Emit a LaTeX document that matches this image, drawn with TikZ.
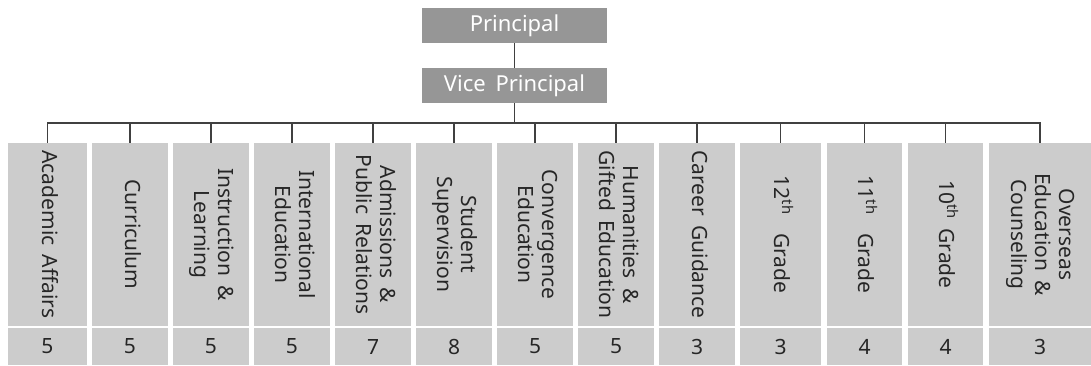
\documentclass[tikz,border=0pt]{standalone}
\usepackage{fontspec}
\setmainfont[WordSpace=1.7]{Noto Sans}
\usepackage{graphicx}

\definecolor{headgray}{RGB}{150,150,150}
\definecolor{unitgray}{RGB}{204,204,204}
\definecolor{linegray}{RGB}{64,64,64}
\newcommand{\vlabel}[1]{\rotatebox{-90}{\begin{tabular}{@{}c@{}}#1\end{tabular}}}

\begin{document}
\begin{tikzpicture}[x=1pt,y=-1pt,
  head/.style={fill=headgray,text=white,minimum width=185pt,minimum height=35pt,inner sep=0pt,font=\fontsize{22}{26}\selectfont},
  unit/.style={fill=unitgray,text=black!85,minimum width=76pt,minimum height=183pt,inner sep=0pt,font=\fontsize{21}{24}\selectfont},
  count/.style={fill=unitgray,text=black!85,minimum width=76pt,minimum height=37pt,inner sep=0pt,font=\fontsize{21}{24}\selectfont},
  link/.style={draw=linegray,line width=1.2pt}]
  \useasboundingbox (0,0) rectangle (1091,365);

  \node[head] (Principal) at (514.5,25.5) {Principal};
  \node[head] (Vice) at (514.5,85.5) {Vice Principal};

  \node[unit,minimum width=79] (Academic) at (47.5,234.5) {\vlabel{Academic Affairs}};
  \node[count,minimum width=79] (AcademicN) at (47.5,346.5) {5};
  \node[unit] (Curriculum) at (130,234.5) {\vlabel{Curriculum}};
  \node[count] (CurriculumN) at (130,346.5) {5};
  \node[unit] (Instruction) at (211,234.5) {\vlabel{Instruction \&\\Learning}};
  \node[count] (InstructionN) at (211,346.5) {5};
  \node[unit] (International) at (292,234.5) {\vlabel{International\\Education}};
  \node[count] (InternationalN) at (292,346.5) {5};
  \node[unit] (Admissions) at (373,234.5) {\vlabel{Admissions \&\\Public Relations}};
  \node[count] (AdmissionsN) at (373,346.5) {7};
  \node[unit] (Student) at (454,234.5) {\vlabel{Student\\Supervision}};
  \node[count] (StudentN) at (454,346.5) {8};
  \node[unit] (Convergence) at (535,234.5) {\vlabel{Convergence\\Education}};
  \node[count] (ConvergenceN) at (535,346.5) {5};
  \node[unit] (Humanities) at (616,234.5) {\vlabel{Humanities \&\\Gifted Education}};
  \node[count] (HumanitiesN) at (616,346.5) {5};
  \node[unit] (Career) at (697,234.5) {\vlabel{Career Guidance}};
  \node[count] (CareerN) at (697,346.5) {3};
  \node[unit,minimum width=81] (Twelfth) at (780.5,234.5) {\vlabel{12\textsuperscript{th}\ \ Grade}};
  \node[count,minimum width=81] (TwelfthN) at (780.5,346.5) {3};
  \node[unit,minimum width=75] (Eleventh) at (864.5,234.5) {\vlabel{11\textsuperscript{th}\ \ Grade}};
  \node[count,minimum width=75] (EleventhN) at (864.5,346.5) {4};
  \node[unit,minimum width=75] (Tenth) at (945.5,234.5) {\vlabel{10\textsuperscript{th} Grade}};
  \node[count,minimum width=75] (TenthN) at (945.5,346.5) {4};
  \node[unit,minimum width=102] (Overseas) at (1040,234.5) {\vlabel{Overseas\\Education \&\\Counseling}};
  \node[count,minimum width=102] (OverseasN) at (1040,346.5) {3};

  \coordinate (bus) at (514.5,123);
  \draw[link] (Principal) -- (Vice);
  \draw[link] (Vice) -- (bus);
  \draw[link] (Academic.north) |- (bus) -| (Overseas.north);
  \draw[link] (Curriculum.north) -- (Curriculum.north |- bus);
  \draw[link] (Instruction.north) -- (Instruction.north |- bus);
  \draw[link] (International.north) -- (International.north |- bus);
  \draw[link] (Admissions.north) -- (Admissions.north |- bus);
  \draw[link] (Student.north) -- (Student.north |- bus);
  \draw[link] (Convergence.north) -- (Convergence.north |- bus);
  \draw[link] (Humanities.north) -- (Humanities.north |- bus);
  \draw[link] (Career.north) -- (Career.north |- bus);
  \draw[link] (Twelfth.north) -- (Twelfth.north |- bus);
  \draw[link] (Eleventh.north) -- (Eleventh.north |- bus);
  \draw[link] (Tenth.north) -- (Tenth.north |- bus);
\end{tikzpicture}
\end{document}
